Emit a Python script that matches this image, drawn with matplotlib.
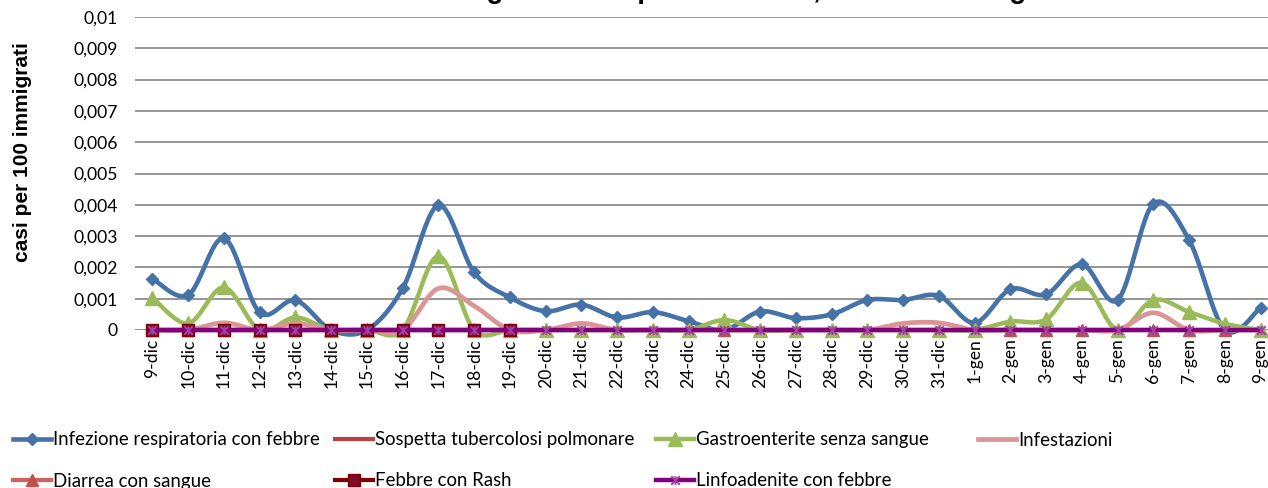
import numpy as np
import matplotlib
matplotlib.use("Agg")
import matplotlib.pyplot as plt
from matplotlib.lines import Line2D
from matplotlib.path import Path

# ---------------- data ----------------
categories = ["9-dic", "10-dic", "11-dic", "12-dic", "13-dic", "14-dic", "15-dic", "16-dic",
              "17-dic", "18-dic", "19-dic", "20-dic", "21-dic", "22-dic", "23-dic", "24-dic",
              "25-dic", "26-dic", "27-dic", "28-dic", "29-dic", "30-dic", "31-dic",
              "1-gen", "2-gen", "3-gen", "4-gen", "5-gen", "6-gen", "7-gen", "8-gen", "9-gen"]

infezione_resp = [0.00164, 0.00112, 0.00293, 0.00056, 0.00095, 0.0, 0.0, 0.00133,
                  0.00398, 0.00184, 0.00104, 0.00060, 0.00081, 0.00040, 0.00057, 0.00028,
                  0.0, 0.00059, 0.00038, 0.00050, 0.00096, 0.00096, 0.00109,
                  0.00023, 0.00130, 0.00114, 0.00210, 0.00096, 0.00403, 0.00288, 0.0, 0.00071]
sospetta_tbc = [0.0, 0.0, 0.0, 0.0, 0.0, 0.0, 0.0, 0.0, 0.0, 0.0, 0.0, 0.0, 0.0, 0.0, 0.0, 0.0,
                0.0, 0.0, 0.0, 0.0, 0.0, 0.0, 0.0, 0.0, 0.0, 0.0, 0.0, 0.0, 0.0, 0.0, 0.0, 0.0]
gastroenterite = [0.00103, 0.00021, 0.00136, 0.0, 0.00040, 0.0, 0.0, 0.0,
                  0.00236, 0.0, 0.0, 0.0, 0.0, 0.0, 0.0, 0.0,
                  0.00032, 0.0, 0.0, 0.0, 0.0, 0.0, 0.0,
                  0.0, 0.00027, 0.00034, 0.00151, 0.0, 0.00096, 0.00058, 0.00020, 0.0]
infestazioni = [0.0, 0.0, 0.00023, 0.0, 0.00021, 0.0, 0.0, 0.0,
                0.00133, 0.00077, 0.0, 0.0, 0.00021, 0.0, 0.0, 0.0,
                0.0, 0.0, 0.0, 0.0, 0.0, 0.00021, 0.00023,
                0.0, 0.0, 0.0, 0.0, 0.0, 0.00055, 0.0, 0.0, 0.0]
diarrea_sangue = [0.0, 0.0, 0.0, 0.0, 0.0, 0.0, 0.0, 0.0, 0.0, 0.0, 0.0, 0.0, 0.0, 0.0, 0.0, 0.0,
                  0.0, 0.0, 0.0, 0.0, 0.0, 0.0, 0.0, 0.0, 0.0, 0.0, 0.0, 0.0, 0.0, 0.0, 0.0, 0.0]
febbre_rash = [0.0, 0.0, 0.0, 0.0, 0.0, 0.0, 0.0, 0.0, 0.0, 0.0, 0.0,
               None, None, None, None, None, None, None, None, None, None, None, None,
               None, None, None, None, None, None, None, None, None]
linfoadenite = [0.0, 0.0, 0.0, 0.0, 0.0, 0.0, 0.0, 0.0, 0.0, 0.0, 0.0, 0.0, 0.0, 0.0, 0.0, 0.0,
                0.0, 0.0, 0.0, 0.0, 0.0, 0.0, 0.0, 0.0, 0.0, 0.0, 0.0, 0.0, 0.0, 0.0, 0.0, 0.0]

series_names = ["Infezione respiratoria con febbre", "Sospetta tubercolosi polmonare",
                "Gastroenterite senza sangue", "Infestazioni", "Diarrea con sangue",
                "Febbre con Rash", "Linfoadenite con febbre"]

y_ticks = [0.0, 0.001, 0.002, 0.003, 0.004, 0.005, 0.006, 0.007, 0.008, 0.009, 0.01]
y_ticklabels = ["0", "0,001", "0,002", "0,003", "0,004", "0,005", "0,006", "0,007",
                "0,008", "0,009", "0,01"]
y_label = "casi per 100 immigrati"
title = "Andamento giornaliero per sindrome, 9 dic 2010 - 9 gen 2011"

# ---------------- helpers ----------------
def smooth_xy(vals, steps=24):
    """Excel-like smoothed line (Catmull-Rom bezier) through the data points."""
    y = np.array([np.nan if v is None else v for v in vals], dtype=float)
    x = np.arange(len(y), dtype=float)
    out_x, out_y = [], []
    valid = ~np.isnan(y)
    runs, cur = [], []
    for i, ok in enumerate(valid):
        if ok:
            cur.append(i)
        elif cur:
            runs.append(cur); cur = []
    if cur:
        runs.append(cur)
    for run in runs:
        xr, yr = x[run], y[run]
        n = len(xr)
        if n == 1:
            out_x += [xr[0], np.nan]; out_y += [yr[0], np.nan]
            continue
        for i in range(n - 1):
            p0 = i - 1 if i > 0 else i
            p3 = i + 2 if i + 2 < n else i + 1
            c1x = xr[i] + (xr[i + 1] - xr[p0]) / 6.0
            c1y = yr[i] + (yr[i + 1] - yr[p0]) / 6.0
            c2x = xr[i + 1] - (xr[p3] - xr[i]) / 6.0
            c2y = yr[i + 1] - (yr[p3] - yr[i]) / 6.0
            t = np.linspace(0, 1, steps, endpoint=(i == n - 2))
            a, b, c, d = (1 - t) ** 3, 3 * (1 - t) ** 2 * t, 3 * (1 - t) * t ** 2, t ** 3
            out_x += list(a * xr[i] + b * c1x + c * c2x + d * xr[i + 1])
            out_y += list(a * yr[i] + b * c1y + c * c2y + d * yr[i + 1])
        out_x.append(np.nan); out_y.append(np.nan)
    return np.array(out_x), np.array(out_y)

asterisk = Path([(-1, -1), (1, 1), (-1, 1), (1, -1), (0, -1), (0, 1)],
                [Path.MOVETO, Path.LINETO, Path.MOVETO, Path.LINETO, Path.MOVETO, Path.LINETO])

plt.rcParams["font.family"] = ["Lato", "DejaVu Sans"]

W, H = 1268, 488
fig = plt.figure(figsize=(W / 100, H / 100), dpi=100)
left_px, right_px = 134.6, 1278.4
top_px, bottom_px = 17, 330
ax = fig.add_axes([left_px / W, 1 - bottom_px / H, (right_px - left_px) / W, (bottom_px - top_px) / H])

x = np.arange(len(categories))

styles = [
    dict(vals=infezione_resp, color="#4572A7", lw=3.3, marker="D", ms=6.6, mfc="#4572A7", mec="#4572A7", mew=1.0, z=3),
    dict(vals=sospetta_tbc, color="#B8423F", lw=3.0, marker=None, ms=0, mfc="none", mec="none", mew=0, z=4),
    dict(vals=diarrea_sangue, color="#D0605D", lw=3.0, marker="^", ms=9, mfc="#C0504D", mec="#C0504D", mew=1.0, z=4.5),
    dict(vals=gastroenterite, color="#9BBB59", lw=3.2, marker="^", ms=9.5, mfc="#9BBB59", mec="#9BBB59", mew=1.0, z=5),
    dict(vals=infestazioni, color="#D99694", lw=3.4, marker=None, ms=0, mfc="none", mec="none", mew=0, z=6),
    dict(vals=febbre_rash, color="#7F0000", lw=3.0, marker="s", ms=8.2, mfc="#7F0A2A", mec="#7F0000", mew=1.0, z=7),
    dict(vals=linfoadenite, color="#800080", lw=3.2, marker=asterisk, ms=6.2, mfc="#800080", mec="#A040A0", mew=1.4, z=8),
]

for st in styles:
    sx, sy = smooth_xy(st["vals"])
    ax.plot(sx, sy, color=st["color"], lw=st["lw"], solid_capstyle="round",
            solid_joinstyle="round", zorder=st["z"], clip_on=False)
    if st["marker"] is not None:
        yv = np.array([np.nan if v is None else v for v in st["vals"]], dtype=float)
        ax.plot(x, yv, linestyle="none", marker=st["marker"], ms=st["ms"], mfc=st["mfc"],
                mec=st["mec"], mew=st["mew"], zorder=st["z"] + 0.1, clip_on=False)

ax.set_xlim(-0.5, len(categories) - 0.5)
ax.set_ylim(0, 0.01)
ax.set_yticks(y_ticks)
ax.set_yticklabels(y_ticklabels)
ax.set_xticks(x)
ax.set_xticklabels(categories, rotation=90, va="top", ha="center")
ax.tick_params(axis="y", length=0, pad=12, labelsize=12.6, colors="black")
ax.tick_params(axis="x", length=0, pad=6, labelsize=12.6, colors="black")
ax.grid(axis="y", color="#8C8C8C", lw=1.3, zorder=0)
ax.set_axisbelow(True)
for sp in ax.spines.values():
    sp.set_visible(False)
ax.axhline(0, color="#8C8C8C", lw=1.3, zorder=1)

fig.text(23 / W, 1 - 152 / H, y_label, rotation=90, ha="center", va="center",
         fontsize=15, fontweight="bold", family=["Liberation Sans", "DejaVu Sans"])

# title: the reference shows it cut off at the top edge (only descenders visible)
fig.text(726 / W, 1 + 1.5 / H, title, ha="center", va="baseline", fontsize=20,
         fontweight="bold", family=["Liberation Sans", "DejaVu Sans"])

# legend: 4 columns, 2 rows
col_px = [13, 335, 656, 978]
row_px = [440, 481]
style_for_name = [0, 1, 3, 4, 2, 5, 6]
for k, name in enumerate(series_names):
    st = styles[style_for_name[k]]
    h = Line2D([], [], color=st["color"], lw=st["lw"], marker=st["marker"],
               ms=st["ms"], mfc=st["mfc"], mec=st["mec"], mew=st["mew"])
    r, c = divmod(k, 4)
    fig.legend(handles=[h], labels=[name], loc="center left",
               bbox_to_anchor=(col_px[c] / W, 1 - row_px[r] / H),
               frameon=False, borderpad=0, borderaxespad=0, handlelength=2.05,
               handletextpad=0.12, fontsize=13.4, numpoints=1)

fig.savefig("out.png", dpi=100)
